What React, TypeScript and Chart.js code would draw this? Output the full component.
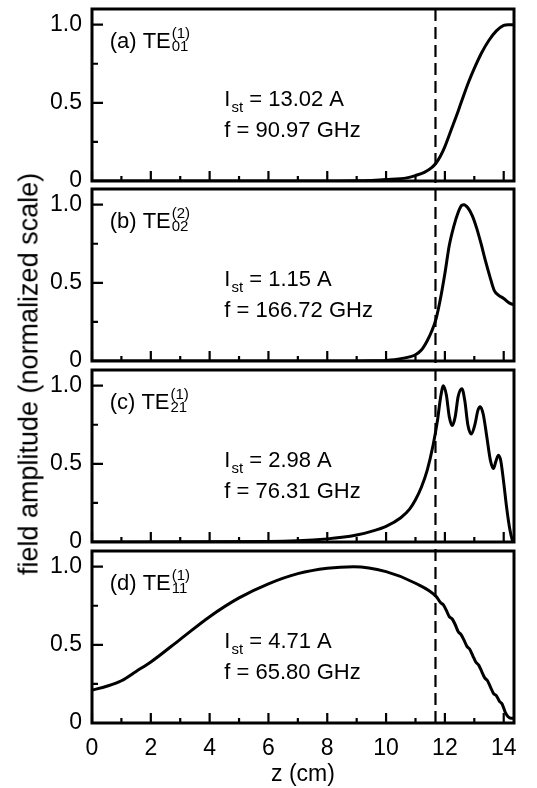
import React, { useEffect, useRef } from "react";
import { Chart, registerables } from "chart.js";
Chart.register(...registerables);

const FONT = "'Liberation Sans', Arial, Helvetica, sans-serif";

// ---- data (z in cm, normalized field amplitude) ----
const zA = [0, 8, 9, 9.5, 10, 10.7, 11.0, 11.3, 11.55, 11.7, 11.85, 12.0, 12.2, 12.4, 12.55, 12.8, 13.0, 13.25, 13.5, 13.75, 14.0, 14.15, 14.35];
const ampA = [0, 0, 0.001, 0.004, 0.009, 0.02, 0.035, 0.055, 0.085, 0.115, 0.16, 0.22, 0.32, 0.42, 0.5, 0.63, 0.72, 0.82, 0.9, 0.96, 0.995, 1.0, 1.0];

const zB = [0, 9, 9.5, 10, 10.5, 11, 11.2, 11.4, 11.55, 11.7, 11.85, 12.0, 12.15, 12.3, 12.45, 12.57, 12.65, 12.78, 12.93, 13.08, 13.23, 13.38, 13.53, 13.68, 13.83, 14.0, 14.2, 14.35];
const ampB = [0, 0, 0.001, 0.004, 0.015, 0.04, 0.07, 0.13, 0.19, 0.27, 0.4, 0.56, 0.74, 0.86, 0.95, 0.995, 1.0, 0.98, 0.93, 0.85, 0.75, 0.64, 0.54, 0.45, 0.42, 0.4, 0.37, 0.36];

const zC = [0, 6, 7, 8, 8.5, 9, 9.5, 10, 10.5, 10.8, 11.0, 11.2, 11.4, 11.6, 11.75, 11.85, 11.95, 12.05, 12.15, 12.25, 12.35, 12.45, 12.58, 12.68, 12.78, 12.9, 13.02, 13.12, 13.2, 13.3, 13.42, 13.55, 13.65, 13.74, 13.82, 13.9, 14.0, 14.1, 14.2, 14.3, 14.35];
const ampC = [0, 0.003, 0.008, 0.02, 0.03, 0.045, 0.068, 0.1, 0.155, 0.21, 0.27, 0.35, 0.46, 0.62, 0.78, 0.92, 1.0, 0.94, 0.8, 0.745, 0.8, 0.93, 0.98, 0.9, 0.75, 0.69, 0.75, 0.84, 0.865, 0.82, 0.68, 0.52, 0.47, 0.52, 0.555, 0.52, 0.38, 0.22, 0.09, 0.01, 0];

const zD = [0, 0.5, 1, 1.5, 2, 3, 4, 5, 6, 7, 8, 8.9, 10, 11, 11.7, 11.85, 11.95, 12.05, 12.15, 12.25, 12.35, 12.45, 12.55, 12.65, 12.75, 12.85, 12.95, 13.05, 13.15, 13.25, 13.35, 13.45, 13.55, 13.65, 13.75, 13.85, 13.95, 14.05, 14.15, 14.25, 14.35];
const ampD = [0.21, 0.235, 0.27, 0.33, 0.39, 0.535, 0.68, 0.8, 0.89, 0.955, 0.99, 1.0, 0.968, 0.894, 0.81, 0.77, 0.755, 0.72, 0.68, 0.665, 0.63, 0.585, 0.565, 0.53, 0.49, 0.47, 0.43, 0.39, 0.37, 0.33, 0.29, 0.27, 0.23, 0.19, 0.175, 0.14, 0.12, 0.07, 0.04, 0.03, 0.03];

const panelLetters = ["(a)", "(b)", "(c)", "(d)"];
const modeSup = ["(1)", "(2)", "(1)", "(1)"];
const modeSub = ["01", "02", "21", "11"];
const startCurrents = ["13.02 A", "1.15 A", "2.98 A", "4.71 A"];
const frequencies = ["90.97 GHz", "166.72 GHz", "76.31 GHz", "65.80 GHz"];
const zSeries = [zA, zB, zC, zD];
const ampSeries = [ampA, ampB, ampC, ampD];

const DASH_Z = 11.68;
const Z_MAX = 14.35;
const Y_MAX = 1.1;

// ---- layout (pixels) ----
const W = 537;
const H = 788;
const OFF = 30; // canvas overhang above the page, keeps chart.js label padding out of the way
const EXTRA_W = 40; // canvas overhang to the right
const PLOT_LEFT = 92;
const PLOT_RIGHT = 514;
const panelTops = [9, 189, 370, 551];
const panelBottoms = [181, 361, 542, 723];

function makePlugin(i: number) {
  return {
    id: "panelDeco" + i,
    beforeDatasetsDraw(chart: any) {
      const ctx = chart.ctx;
      const { top, bottom } = chart.chartArea;
      const xs = chart.scales.x;
      const px = xs.getPixelForValue(DASH_Z);
      const y0 = i === 0 ? top : top - 4.5;
      const y1 = i === 3 ? bottom : bottom + 4.5;
      ctx.save();
      ctx.strokeStyle = "#000";
      ctx.lineWidth = 2.2;
      ctx.setLineDash([12, 6]);
      ctx.lineDashOffset = y0 - (panelTops[0] + OFF);
      ctx.beginPath();
      ctx.moveTo(px, y0);
      ctx.lineTo(px, y1);
      ctx.stroke();
      ctx.restore();
    },
    afterDatasetsDraw(chart: any) {
      const ctx = chart.ctx;
      const { left, right, top, bottom } = chart.chartArea;
      const xs = chart.scales.x;
      const ys = chart.scales.y;
      ctx.save();
      ctx.strokeStyle = "#000";
      ctx.fillStyle = "#000";
      ctx.lineWidth = 3;
      ctx.setLineDash([]);
      ctx.strokeRect(left, top, right - left, bottom - top);
      ctx.lineWidth = 2.2;
      ctx.beginPath();
      for (const t of ys.ticks) {
        const py = ys.getPixelForValue(t.value);
        const major = Math.abs(t.value * 2 - Math.round(t.value * 2)) < 1e-6;
        ctx.moveTo(left, py);
        ctx.lineTo(left + (major ? 11 : 6), py);
      }
      for (const t of xs.ticks) {
        const px = xs.getPixelForValue(t.value);
        const major = Math.round(t.value) % 2 === 0;
        ctx.moveTo(px, bottom);
        ctx.lineTo(px, bottom - (major ? 10 : 5));
      }
      ctx.stroke();

      // panel label (x) TE with stacked super/subscript
      const tx = xs.getPixelForValue(0.6);
      const ty = ys.getPixelForValue(0.85);
      ctx.textBaseline = "alphabetic";
      ctx.textAlign = "left";
      ctx.font = `22px ${FONT}`;
      const main = panelLetters[i] + " TE";
      ctx.fillText(main, tx, ty);
      const mw = ctx.measureText(main).width;
      ctx.font = `15px ${FONT}`;
      ctx.fillText(modeSup[i], tx + mw + 1, ty - 10);
      ctx.fillText(modeSub[i], tx + mw + 1, ty + 3);

      // I_st and f
      const ix = xs.getPixelForValue(4.5);
      const iy = ys.getPixelForValue(0.48);
      ctx.font = `22px ${FONT}`;
      ctx.fillText("I", ix, iy);
      const iw = ctx.measureText("I").width;
      ctx.font = `15px ${FONT}`;
      ctx.fillText("st", ix + iw + 1, iy + 6);
      const sw = ctx.measureText("st").width;
      ctx.font = `22px ${FONT}`;
      ctx.fillText(" = " + startCurrents[i], ix + iw + 1 + sw, iy);
      const fy = ys.getPixelForValue(0.28);
      ctx.fillText("f = " + frequencies[i], ix, fy);
      ctx.restore();
    },
  };
}

function makeConfig(i: number): any {
  const isLast = i === 3;
  const zs = zSeries[i];
  const amps = ampSeries[i];
  const CW = W + EXTRA_W;
  const CH = H + OFF;
  return {
    type: "line",
    data: {
      datasets: [
        {
          data: zs.map((z, j) => ({ x: z, y: amps[j] })),
          borderColor: "#000",
          borderWidth: 3,
          pointRadius: 0,
          fill: false,
          cubicInterpolationMode: "monotone",
        },
      ],
    },
    options: {
      responsive: false,
      animation: false,
      devicePixelRatio: 1,
      events: [],
      layout: {
        padding: {
          left: 0,
          right: CW - PLOT_RIGHT,
          top: panelTops[i] + OFF,
          bottom: isLast ? 0 : CH - (panelBottoms[i] + OFF),
        },
      },
      plugins: {
        legend: { display: false },
        tooltip: { enabled: false },
        title: { display: false },
      },
      scales: {
        x: {
          type: "linear",
          position: "bottom",
          min: 0,
          max: Z_MAX,
          grid: { display: false, drawTicks: false },
          border: { display: false },
          ticks: {
            display: isLast,
            stepSize: 1,
            autoSkip: false,
            maxRotation: 0,
            includeBounds: false,
            color: "#000",
            padding: 12,
            font: { family: FONT, size: 23 },
            callback: (v: number) => (Math.round(v) % 2 === 0 ? String(v) : ""),
          },
          title: {
            display: isLast,
            text: "z (cm)",
            color: "#000",
            font: { family: FONT, size: 23, lineHeight: 1 },
            padding: { top: 0, bottom: 2 },
          },
          afterFit: (s: any) => {
            s.height = isLast ? H - panelBottoms[3] : 0;
          },
        },
        y: {
          type: "linear",
          position: "left",
          min: 0,
          max: Y_MAX,
          grid: { display: false, drawTicks: false },
          border: { display: false },
          ticks: {
            stepSize: 0.25,
            autoSkip: false,
            includeBounds: false,
            color: "#000",
            padding: 10,
            font: { family: FONT, size: 23 },
            callback: (v: number) =>
              v === 0 ? "0" : Math.abs(v * 2 - Math.round(v * 2)) < 1e-6 ? v.toFixed(1) : "",
          },
          afterFit: (s: any) => {
            s.width = PLOT_LEFT;
          },
        },
      },
    },
    plugins: [makePlugin(i)],
  };
}

export default function App() {
  const r0 = useRef<HTMLCanvasElement>(null);
  const r1 = useRef<HTMLCanvasElement>(null);
  const r2 = useRef<HTMLCanvasElement>(null);
  const r3 = useRef<HTMLCanvasElement>(null);

  useEffect(() => {
    const refs = [r0, r1, r2, r3];
    const charts = refs.map((r, i) => new Chart(r.current as HTMLCanvasElement, makeConfig(i)));
    return () => charts.forEach((c) => c.destroy());
  }, []);

  const cs: React.CSSProperties = { position: "absolute", left: 0, top: -OFF };
  return (
    <div style={{ position: "fixed", left: 0, top: 0, width: W, height: H, background: "#fff", overflow: "hidden" }}>
      <canvas ref={r0} width={W + EXTRA_W} height={H + OFF} style={cs} />
      <canvas ref={r1} width={W + EXTRA_W} height={H + OFF} style={cs} />
      <canvas ref={r2} width={W + EXTRA_W} height={H + OFF} style={cs} />
      <canvas ref={r3} width={W + EXTRA_W} height={H + OFF} style={cs} />
      <div
        style={{
          position: "absolute",
          left: 29,
          top: 374,
          transform: "translate(-50%, -50%) rotate(-90deg)",
          whiteSpace: "nowrap",
          fontFamily: FONT,
          fontSize: 27,
          lineHeight: 1,
          color: "#000",
        }}
      >
        field amplitude (normalized scale)
      </div>
    </div>
  );
}
